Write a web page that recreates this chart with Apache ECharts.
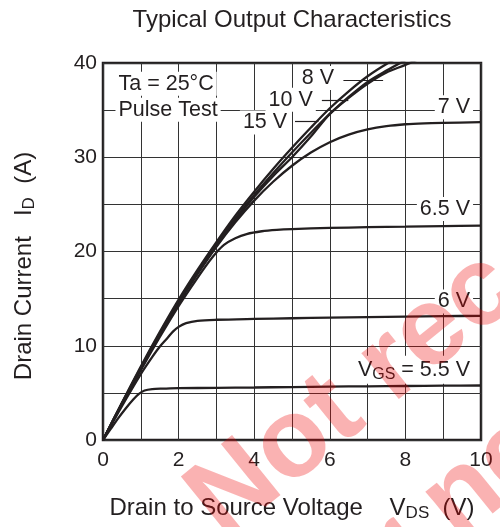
<!DOCTYPE html>
<html>
<head>
<meta charset="utf-8">
<script src="https://cdn.jsdelivr.net/npm/echarts@6/dist/echarts.min.js"></script>
<style>
  html, body { margin: 0; padding: 0; background: #fff; }
  #chart { width: 500px; height: 527px; }
</style>
</head>
<body>
<div id="chart"></div>
<script>
// Id (A) vs Vds (V)
const vgs5_5 = [[0,0],[0.2,1.15],[0.4,2.3],[0.6,3.35],[0.8,4.3],[0.95,4.9],[1.1,5.25],[1.3,5.4],[1.6,5.45],[2,5.5],[3,5.53],[4,5.57],[5,5.62],[6,5.66],[7,5.7],[8,5.73],[9,5.76],[10,5.78]]
const vgs6 = [[0,0],[0.5,3.6],[1,7.0],[1.3,8.8],[1.5,9.9],[1.7,10.8],[1.85,11.5],[2,12.0],[2.2,12.4],[2.5,12.65],[3,12.76],[4,12.85],[5,12.92],[6,12.98],[7,13.04],[8,13.09],[9,13.14],[10,13.18]]
const vgs6_5 = [[0,0],[0.5,3.8],[1,7.4],[1.5,10.9],[2,14.2],[2.5,17.2],[2.8,18.9],[3,19.9],[3.2,20.7],[3.5,21.4],[3.8,21.85],[4.2,22.15],[4.6,22.3],[5,22.38],[6,22.5],[7,22.58],[8,22.64],[9,22.7],[10,22.75]]
const vgs7 = [[0,0],[0.5,3.85],[1,7.55],[1.5,11.1],[2,14.5],[2.5,17.6],[3,20.5],[3.5,23.1],[4,25.4],[4.5,27.4],[5,29.1],[5.5,30.5],[6,31.6],[6.5,32.4],[7,32.95],[7.5,33.3],[8,33.5],[8.5,33.6],[9,33.65],[10,33.72]]
const vgs8 = [[0,0],[0.5,3.85],[1,7.6],[1.5,11.2],[2,14.6],[2.5,17.7],[3,20.6],[3.5,23.3],[4,25.8],[4.5,28.0],[5,30.0],[5.5,32.2],[6,34.6],[6.5,36.3],[7,37.8],[7.5,39.0],[8,39.8],[8.5,40.7]]
const vgs10 = [[0,0],[0.5,3.9],[1,7.7],[1.5,11.3],[2,14.7],[2.5,17.85],[3,20.75],[3.5,23.5],[4,26.0],[4.5,28.3],[5,30.5],[5.5,32.6],[6,34.6],[6.5,36.4],[7,38.0],[7.5,39.2],[8,40.3]]
const vgs15 = [[0,0],[0.5,3.95],[1,7.8],[1.5,11.45],[2,14.9],[2.5,18.05],[3,21.0],[3.5,23.8],[4,26.35],[4.5,28.75],[5,31.0],[5.5,33.15],[6,35.2],[6.5,37.0],[7,38.6],[7.5,39.9],[8,41.0]]

const curveNames = ['5.5 V', '6 V', '6.5 V', '7 V', '8 V', '10 V', '15 V']
const curves = [vgs5_5, vgs6, vgs6_5, vgs7, vgs8, vgs10, vgs15]

// annotation texts and where they sit (in axis units)
const noteText = ['Ta = 25°C', 'Pulse Test', '8 V', '10 V', '15 V', '7 V', '6.5 V', '6 V', '{v|V}{s|GS}{v| = 5.5 V}']
const noteVds = [0.33, 0.33, 6.19, 5.63, 4.95, 9.79, 9.79, 9.79, 9.79]
const noteId = [37.8, 35.05, 38.4, 36.1, 33.7, 35.3, 24.5, 14.7, 7.45]
const noteSide = ['right', 'right', 'left', 'left', 'left', 'left', 'left', 'left', 'left']
// leader arrows for the 8 / 10 / 15 V curves
const arrowFrom = [[6.36, 38.2], [5.79, 36.1], [5.08, 33.8]]
const arrowTo = [[7.41, 38.2], [6.49, 36.1], [5.70, 33.8]]

const ink = '#231f20'
const font = "'Liberation Sans', Arial, sans-serif"
const gridLine = { color: '#333', width: 1 }

const chart = echarts.init(document.getElementById('chart'), null, { renderer: 'canvas' })

let seriesdata = curves.map((d, i) => ({
  name: curveNames[i],
  type: 'line',
  data: d,
  symbol: 'none',
  smooth: 0.3,
  silent: true,
  z: 3,
  lineStyle: { color: ink, width: 2.3 }
}))

seriesdata.push({
  name: 'notes',
  type: 'scatter',
  symbolSize: 0,
  silent: true,
  z: 5,
  itemStyle: { opacity: 1 },
  data: noteText.map((t, i) => ({
    value: [noteVds[i], noteId[i]],
    label: {
      show: true,
      formatter: t,
      position: noteSide[i],
      distance: 0,
      opacity: 1,
      color: ink,
      fontSize: 21.5,
      fontFamily: font,
      backgroundColor: '#fff',
      padding: [1, 3],
      rich: {
        v: { fontSize: 21.5, fontFamily: font, color: ink },
        s: { fontSize: 16, fontFamily: font, color: ink, padding: [10, 0, 0, 0] }
      }
    }
  })),
  markLine: {
    silent: true,
    symbol: ['none', 'arrow'],
    symbolSize: [0, 8],
    label: { show: false },
    lineStyle: { color: ink, width: 1.2, type: 'solid', opacity: 1 },
    data: arrowFrom.map((f, i) => [{ coord: f }, { coord: arrowTo[i] }])
  }
})

let option = {
  animation: false,
  title: {
    text: 'Typical Output Characteristics',
    left: 287,
    top: 3,
    textAlign: 'center',
    textStyle: { fontSize: 24, fontWeight: 'normal', color: ink, fontFamily: font }
  },
  grid: {
    left: 103, right: 19, top: 63, bottom: 86.5,
    show: true, borderColor: ink, borderWidth: 2.5
  },
  xAxis: {
    type: 'value',
    min: 0, max: 10, interval: 2,
    axisLine: { show: false },
    axisTick: { show: false },
    axisLabel: { margin: 10, color: ink, fontSize: 21, fontFamily: font },
    splitLine: { show: true, lineStyle: gridLine },
    minorTick: { show: false, splitNumber: 2 },
    minorSplitLine: { show: true, lineStyle: gridLine },
    name: '{a|Drain to Source Voltage    V}{s|DS}{a|  (V)}',
    nameLocation: 'middle',
    nameGap: 54,
    nameTextStyle: {
      rich: {
        a: { fontSize: 24, fontFamily: font, color: ink },
        s: { fontSize: 17, fontFamily: font, color: ink, padding: [11, 0, 0, 0] }
      }
    }
  },
  yAxis: {
    type: 'value',
    min: 0, max: 40, interval: 10,
    axisLine: { show: false },
    axisTick: { show: false },
    axisLabel: { margin: 6, color: ink, fontSize: 21, fontFamily: font },
    splitLine: { show: true, lineStyle: gridLine },
    minorTick: { show: false, splitNumber: 2 },
    minorSplitLine: { show: true, lineStyle: gridLine }
  },
  graphic: [
    {
      type: 'text',
      x: 24, y: 266,
      rotation: Math.PI / 2,
      silent: true,
      style: {
        text: '{a|Drain Current   I}{s|D}{a|  (A)}',
        align: 'center',
        verticalAlign: 'middle',
        rich: {
          a: { fontSize: 24, fontFamily: font, fill: ink },
          s: { fontSize: 17, fontFamily: font, fill: ink, padding: [11, 0, 0, 0] }
        }
      }
    },
    {
      // "Not recommended" stamp laid over the chart
      type: 'text',
      x: 204, y: 517,
      rotation: 39 * Math.PI / 180,
      z: 100,
      silent: true,
      style: {
        text: 'Not recommended',
        align: 'left',
        verticalAlign: 'middle',
        font: "bold 112px 'Liberation Sans', Arial, sans-serif",
        fill: 'rgba(240,0,0,0.3)'
      }
    },
    {
      type: 'text',
      x: 297, y: 632,
      rotation: 39 * Math.PI / 180,
      z: 100,
      silent: true,
      style: {
        text: 'for new designs',
        align: 'left',
        verticalAlign: 'middle',
        font: "bold 112px 'Liberation Sans', Arial, sans-serif",
        fill: 'rgba(240,0,0,0.3)'
      }
    }
  ],
  series: seriesdata
}

chart.setOption(option)
</script>
</body>
</html>
